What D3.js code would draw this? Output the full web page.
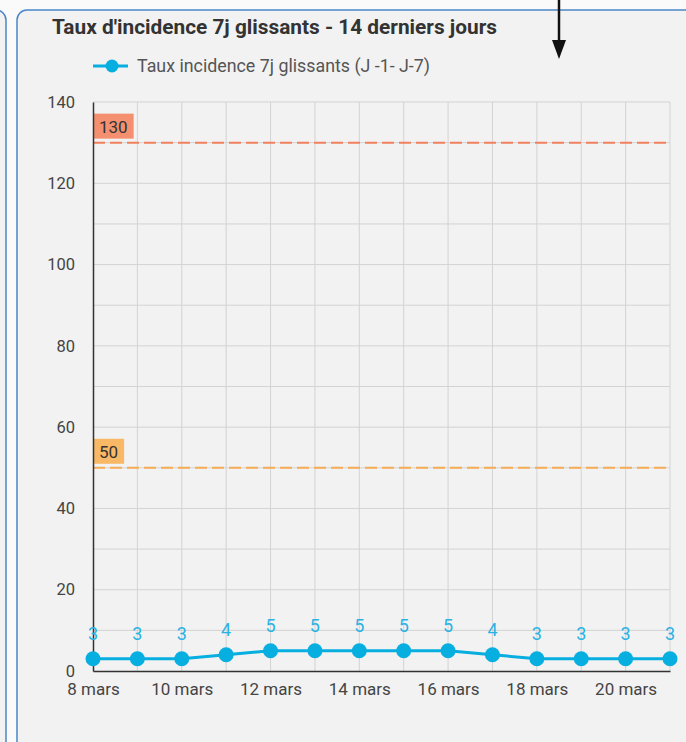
<!DOCTYPE html>
<html>
<head>
<meta charset="utf-8">
<script src="https://cdn.jsdelivr.net/npm/d3@7"></script>
<style>
  html, body { margin: 0; padding: 0; background: #fafafa; }
  svg { display: block; font-family: Roboto, "Noto Sans", sans-serif; }
</style>
</head>
<body>
<div id="chart"></div>
<script>
// data
const dates = ["2021-03-08", "2021-03-09", "2021-03-10", "2021-03-11", "2021-03-12", "2021-03-13", "2021-03-14",
  "2021-03-15", "2021-03-16", "2021-03-17", "2021-03-18", "2021-03-19", "2021-03-20", "2021-03-21"];
const values = [3, 3, 3, 4, 5, 5, 5, 5, 5, 4, 3, 3, 3, 3];
const yTicks = [0, 20, 40, 60, 80, 100, 120, 140];
const seriesName = "Taux incidence 7j glissants (J -1- J-7)";
const titleText = "Taux d'incidence 7j glissants - 14 derniers jours";
const thresholds = [130, 50];
const moisFr = ["janv.", "févr.", "mars", "avr.", "mai", "juin", "juil.", "août", "sept.", "oct.", "nov.", "déc."];

const W = 686, H = 742;
const margin = { top: 102, right: 16, bottom: 71, left: 93 };
const lineColor = "#07aee0";
const thresholdColors = { 130: { line: "#f0815d", box: "#f4906f" }, 50: { line: "#f6ab55", box: "#f9b865" } };

const parse = d3.timeParse("%Y-%m-%d");
const points = dates.map((d, i) => ({ date: parse(d), value: values[i] }));

const svg = d3.select("#chart").append("svg")
  .attr("width", W)
  .attr("height", H);

// panels
svg.append("rect")
  .attr("x", -200).attr("y", 10).attr("width", 206).attr("height", 800).attr("rx", 10)
  .attr("fill", "#f2f2f2").attr("stroke", "#4a86c8").attr("stroke-width", 1.5);
svg.append("rect")
  .attr("x", 17).attr("y", 10).attr("width", 720).attr("height", 800).attr("rx", 10)
  .attr("fill", "#f2f2f2").attr("stroke", "#4a86c8").attr("stroke-width", 1.5);

// arrow at the top
svg.append("line")
  .attr("x1", 559).attr("x2", 559).attr("y1", 0).attr("y2", 44)
  .attr("stroke", "#111").attr("stroke-width", 2.5);
svg.append("path")
  .attr("d", "M552,40 L566,40 L559,59 Z")
  .attr("fill", "#111");

// title
svg.append("text")
  .attr("x", 52).attr("y", 34)
  .attr("font-size", 20).attr("font-weight", 700).attr("fill", "#333")
  .attr("textLength", 445).attr("lengthAdjust", "spacingAndGlyphs")
  .text(titleText);

// legend
const legend = svg.append("g");
legend.append("line")
  .attr("x1", 93).attr("x2", 128).attr("y1", 66).attr("y2", 66)
  .attr("stroke", lineColor).attr("stroke-width", 3);
legend.append("circle")
  .attr("cx", 112).attr("cy", 66).attr("r", 6.5).attr("fill", lineColor);
legend.append("text")
  .attr("x", 137).attr("y", 72)
  .attr("font-size", 17.5).attr("fill", "#555")
  .attr("textLength", 293).attr("lengthAdjust", "spacingAndGlyphs")
  .text(seriesName);

const x = d3.scaleTime()
  .domain(d3.extent(points, d => d.date))
  .range([margin.left, W - margin.right]);
const y = d3.scaleLinear()
  .domain([0, 140])
  .range([H - margin.bottom, margin.top]);

// grid
const grid = svg.append("g").attr("stroke", "#d3d3d3").attr("stroke-width", 1);
grid.selectAll("line.h")
  .data(d3.range(10, 141, 10))
  .join("line")
  .attr("x1", margin.left).attr("x2", W - margin.right)
  .attr("y1", d => y(d)).attr("y2", d => y(d));
grid.selectAll("line.v")
  .data(points.slice(1))
  .join("line")
  .attr("x1", d => x(d.date)).attr("x2", d => x(d.date))
  .attr("y1", y(140)).attr("y2", y(0));

// threshold lines
thresholds.forEach(t => {
  const c = thresholdColors[t];
  svg.append("line")
    .attr("x1", margin.left).attr("x2", W - margin.right)
    .attr("y1", y(t)).attr("y2", y(t))
    .attr("stroke", c.line).attr("stroke-width", 2)
    .attr("stroke-dasharray", "12,5");
  const g = svg.append("g");
  const label = g.append("text")
    .attr("x", margin.left + 6).attr("y", y(t) - 10)
    .attr("font-size", 17).attr("fill", "#333")
    .text(t);
  const bw = label.node().getComputedTextLength() + 12;
  g.insert("rect", "text")
    .attr("x", margin.left).attr("y", y(t) - 29)
    .attr("width", bw).attr("height", 25)
    .attr("fill", c.box);
});

// axes
const yAxis = svg.append("g")
  .attr("transform", `translate(${margin.left},0)`)
  .call(d3.axisLeft(y).tickValues(yTicks).tickSize(0).tickPadding(18));
yAxis.select(".domain").attr("stroke", "#333").attr("stroke-width", 1.5);
yAxis.selectAll("text").attr("font-size", 16.5).attr("fill", "#444").attr("font-family", "Roboto, sans-serif");

const xAxis = svg.append("g")
  .attr("transform", `translate(0,${y(0)})`)
  .call(d3.axisBottom(x)
    .tickValues(points.filter((d, i) => i % 2 === 0).map(d => d.date))
    .tickFormat(d => `${d.getDate()} ${moisFr[d.getMonth()]}`)
    .tickSize(0).tickPadding(12));
xAxis.select(".domain").attr("stroke", "#333").attr("stroke-width", 1.5);
xAxis.selectAll("text").attr("font-size", 17).attr("fill", "#444").attr("font-family", "Roboto, sans-serif");

// series
svg.append("path")
  .datum(points)
  .attr("fill", "none")
  .attr("stroke", lineColor)
  .attr("stroke-width", 3)
  .attr("d", d3.line().x(d => x(d.date)).y(d => y(d.value)));

svg.append("g").selectAll("circle")
  .data(points)
  .join("circle")
  .attr("cx", d => x(d.date)).attr("cy", d => y(d.value))
  .attr("r", 7.5).attr("fill", lineColor);

svg.append("g").selectAll("text")
  .data(points)
  .join("text")
  .attr("x", d => x(d.date)).attr("y", d => y(d.value) - 19)
  .attr("text-anchor", "middle")
  .attr("font-size", 18).attr("fill", "#2ab2e4")
  .text(d => d.value);
</script>
</body>
</html>
